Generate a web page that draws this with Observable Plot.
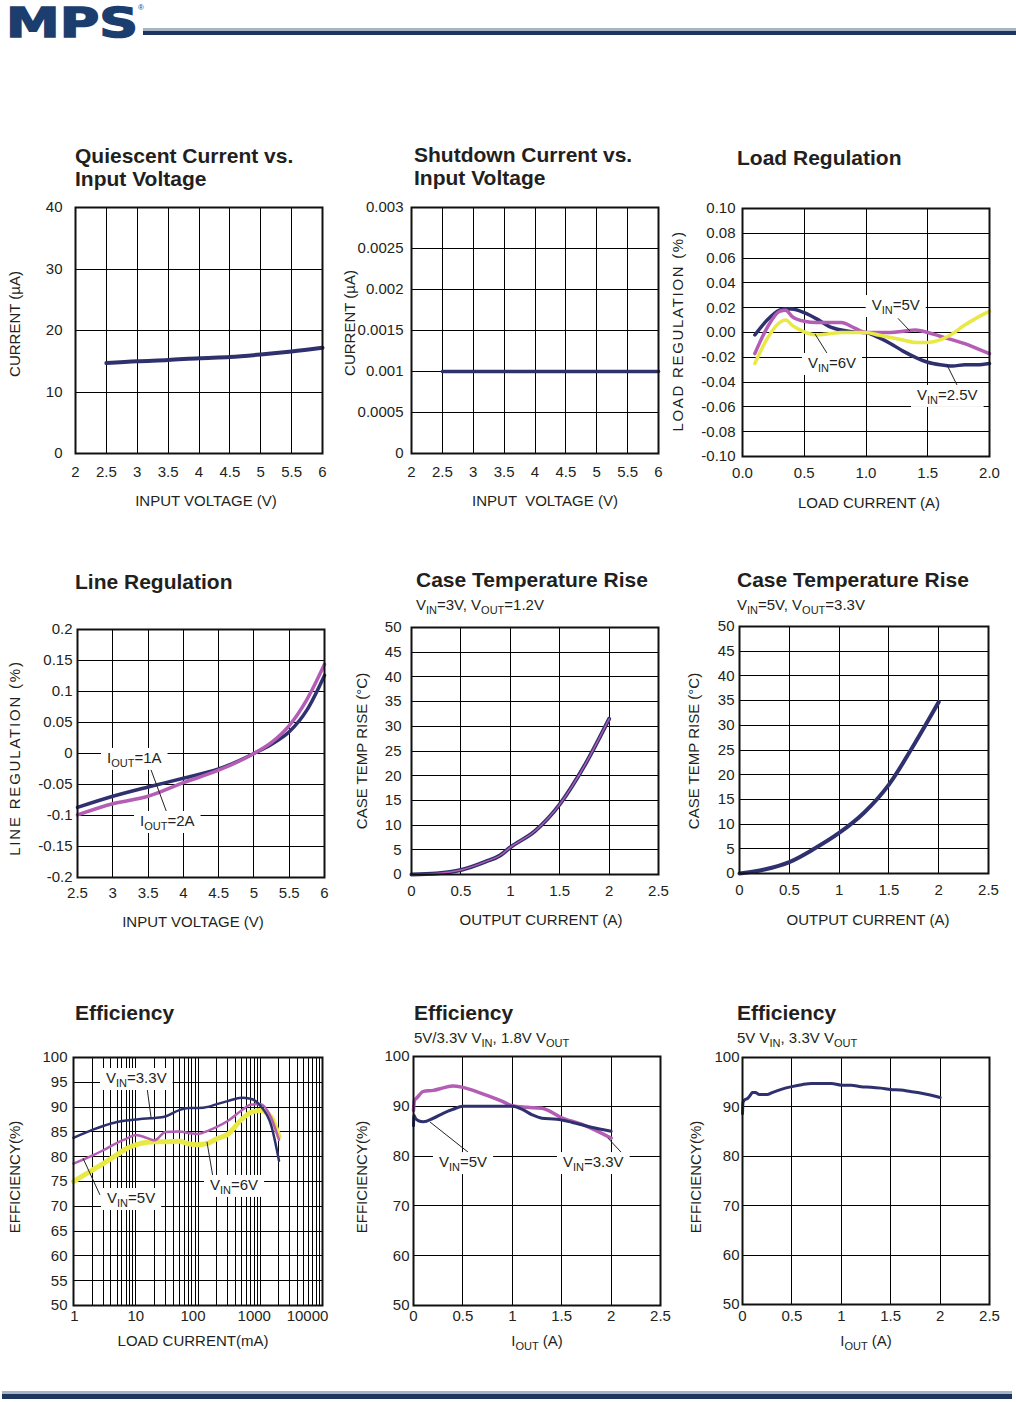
<!DOCTYPE html>
<html><head><meta charset="utf-8">
<script src="https://cdn.jsdelivr.net/npm/d3@7"></script>
<script src="https://cdn.jsdelivr.net/npm/@observablehq/plot@0.6"></script>
<style>
body{margin:0;background:#fff;}
#page{position:relative;width:1016px;height:1402px;overflow:hidden;background:#fff;}
</style></head><body><div id="page"></div>
<script>
// ---------------- data ----------------
const qcVin = [2.5, 3, 3.5, 4, 4.5, 5, 5.5, 6];
const qcCurrent = [14.7, 15.0, 15.2, 15.5, 15.7, 16.1, 16.6, 17.2];
const vinTicks = [2, 2.5, 3, 3.5, 4, 4.5, 5, 5.5, 6];
const qcYTicks = [0, 10, 20, 30, 40];

const sdVin = [2.5, 3, 3.5, 4, 4.5, 5, 5.5, 6];
const sdCurrent = [0.001, 0.001, 0.001, 0.001, 0.001, 0.001, 0.001, 0.001];
const sdYTicks = [0, 0.0005, 0.001, 0.0015, 0.002, 0.0025, 0.003];

const lrLoad = [0.1, 0.2, 0.3, 0.35, 0.4, 0.5, 0.6, 0.7, 0.8, 0.9, 1.0, 1.1, 1.2, 1.3, 1.4, 1.5, 1.6, 1.7, 1.8, 1.9, 2.0];
const lrVin25 = [-0.002, 0.010, 0.018, 0.019, 0.019, 0.016, 0.011, 0.005, 0.002, 0.0005, 0.0, -0.004, -0.009, -0.015, -0.020, -0.024, -0.026, -0.027, -0.026, -0.026, -0.025];
const lrVin5 = [-0.017, 0.004, 0.017, 0.018, 0.013, 0.009, 0.008, 0.008, 0.008, 0.004, 0.0, 0.0, 0.0, 0.001, 0.002, 0.0, -0.003, -0.006, -0.009, -0.013, -0.017];
const lrVin6 = [-0.025, -0.005, 0.008, 0.010, 0.006, 0.0005, -0.002, -0.001, 0.0, 0.0, 0.0, -0.002, -0.004, -0.006, -0.008, -0.008, -0.006, -0.001, 0.006, 0.012, 0.017];
const lrXTicks = [0, 0.5, 1.0, 1.5, 2.0];
const lrYTicks = [-0.10, -0.08, -0.06, -0.04, -0.02, 0.00, 0.02, 0.04, 0.06, 0.08, 0.10];

const lnVin = [2.5, 3, 3.5, 4, 4.5, 5, 5.25, 5.5, 5.75, 6];
const lnIout1A = [-0.087, -0.069, -0.054, -0.040, -0.025, 0.0, 0.015, 0.035, 0.070, 0.126];
const lnIout2A = [-0.099, -0.081, -0.069, -0.047, -0.027, 0.0, 0.018, 0.045, 0.087, 0.144];
const lnXTicks = [2.5, 3, 3.5, 4, 4.5, 5, 5.5, 6];
const lnYTicks = [-0.2, -0.15, -0.1, -0.05, 0, 0.05, 0.1, 0.15, 0.2];

const ct1Iout = [0, 0.25, 0.5, 0.75, 0.9, 1.0, 1.25, 1.5, 1.75, 2.0];
const ct1Rise = [0, 0.2, 0.9, 2.6, 3.9, 5.5, 8.8, 14.2, 22.0, 31.5];
const ct2Iout = [0, 0.25, 0.5, 0.75, 1.0, 1.25, 1.5, 1.75, 2.0];
const ct2Rise = [0, 0.8, 2.3, 5.0, 8.2, 12.3, 18.0, 26.0, 34.7];
const ioutTicks = [0, 0.5, 1, 1.5, 2, 2.5];
const ctYTicks = [0, 5, 10, 15, 20, 25, 30, 35, 40, 45, 50];

const efLoad = [1, 2, 3, 5, 7, 10, 15, 20, 30, 50, 70, 100, 150, 200, 300, 500, 700, 1000, 1500, 2000];
const efVin33 = [83.8, 85.4, 86.2, 87.0, 87.3, 87.5, 87.7, 87.8, 88.1, 89.4, 89.8, 89.8, 90.1, 90.6, 91.2, 91.9, 91.7, 90.3, 86.3, 79.2];
const efVin5 = [78.6, 80.2, 81.3, 82.8, 83.6, 84.4, 83.8, 83.3, 85.0, 85.1, 84.8, 84.6, 85.3, 86.0, 87.2, 89.3, 90.5, 90.6, 87.8, 83.4];
const efVin6 = [75.0, 77.3, 78.6, 80.4, 81.6, 82.4, 82.9, 83.0, 83.0, 83.1, 82.6, 82.4, 82.8, 83.6, 84.5, 87.5, 88.9, 89.3, 88.0, 84.0];
const efXTicks = [1, 10, 100, 1000, 10000];
const efDecades = [1, 10, 100, 1000];
const efYTicks = [50, 55, 60, 65, 70, 75, 80, 85, 90, 95, 100];

const e2IoutVin5 = [0, 0.005, 0.02, 0.05, 0.1, 0.2, 0.3, 0.4, 0.5, 0.7, 0.9, 1.0, 1.1, 1.2, 1.3, 1.45, 1.6, 1.8, 2.0];
const e2Vin5 = [86.1, 88.2, 87.6, 87.1, 86.9, 87.6, 88.6, 89.4, 90.0, 90.0, 90.0, 90.0, 89.4, 88.3, 87.6, 87.4, 86.8, 85.8, 85.0];
const e2IoutVin33 = [0, 0.01, 0.03, 0.1, 0.2, 0.3, 0.4, 0.5, 0.7, 0.9, 1.0, 1.15, 1.3, 1.5, 1.7, 2.0];
const e2Vin33 = [89.2, 91.2, 91.6, 93.0, 93.2, 93.7, 94.1, 93.8, 92.5, 91.0, 90.1, 89.8, 89.6, 87.7, 86.4, 83.6];
const effYTicks = [50, 60, 70, 80, 90, 100];

const e3Iout = [0, 0.005, 0.02, 0.05, 0.08, 0.1, 0.13, 0.17, 0.2, 0.25, 0.3, 0.4, 0.5, 0.6, 0.7, 0.8, 0.9, 1.0, 1.1, 1.2, 1.3, 1.4, 1.5, 1.6, 1.7, 1.8, 1.9, 2.0];
const e3Eff = [88.6, 90.9, 91.4, 91.7, 92.4, 92.9, 92.9, 92.5, 92.5, 92.5, 92.9, 93.6, 94.1, 94.5, 94.75, 94.75, 94.75, 94.4, 94.4, 94.1, 94.0, 93.8, 93.5, 93.4, 93.1, 92.8, 92.4, 91.9];

// ---------------- style ----------------
const NAVY = "#2f316e", MAG = "#b35db5", YEL = "#e9e946", INK = "#231f20";
const FONT = '"Liberation Sans", Arial, Helvetica, sans-serif';
const page = document.getElementById("page");

const ov = d3.select(page).append("svg")
  .attr("width", 1016).attr("height", 1402)
  .style("position", "absolute").style("left", "0px").style("top", "0px")
  .style("z-index", 5).style("font-family", FONT).style("overflow", "visible");

function addText(parent, x, y, parts, o = {}) {
  const size = o.size ?? 15;
  const t = parent.append("text").attr("x", x).attr("y", y)
    .attr("font-size", size).attr("font-weight", o.weight ?? 400)
    .attr("fill", o.fill ?? INK).attr("text-anchor", o.anchor ?? "start")
    .style("white-space", "pre");
  if (o.spacing) t.attr("letter-spacing", o.spacing);
  if (o.rotate) t.attr("transform", `rotate(-90 ${x} ${y})`);
  let shifted = false;
  for (const p of parts) {
    if (typeof p === "string") {
      const ts = t.append("tspan").text(p);
      if (shifted) { ts.attr("dy", -4); shifted = false; }
    } else {
      t.append("tspan").text(p.sub).attr("font-size", Math.round(size * 0.74)).attr("dy", 4);
      shifted = true;
    }
  }
  return t;
}

function makePanel(cfg) {
  const [x0, y0, x1, y1] = cfg.frame;
  const mL = 80, mT = 14, mR = 40, mB = 36;
  const fmtX = cfg.xFmt ?? (d => String(d));
  const xAxes = cfg.xShift
    ? cfg.xTicks.map((t, i) => Plot.axisX({ticks: [t], tickSize: 0, tickPadding: cfg.xPad, tickFormat: fmtX, label: null, dx: cfg.xShift[i]}))
    : [Plot.axisX({ticks: cfg.xTicks, tickSize: 0, tickPadding: cfg.xPad, tickFormat: fmtX, label: null})];
  const chart = Plot.plot({
    width: x1 - x0 + mL + mR, height: y1 - y0 + mT + mB,
    marginLeft: mL, marginRight: mR, marginTop: mT, marginBottom: mB,
    x: {type: cfg.xType ?? "linear", domain: cfg.xDomain},
    y: {type: "linear", domain: cfg.yDomain},
    style: {fontFamily: FONT, fontSize: "15px", color: INK, background: "transparent", overflow: "visible"},
    marks: [
      Plot.gridX({ticks: cfg.xGrid ?? cfg.xTicks, stroke: "#000", strokeOpacity: 1, strokeWidth: 1, shapeRendering: "crispEdges"}),
      Plot.gridY({ticks: cfg.yGrid ?? cfg.yTicks, stroke: "#000", strokeOpacity: 1, strokeWidth: 1, shapeRendering: "crispEdges"}),
      ...cfg.marks,
      Plot.frame({stroke: "#111", strokeWidth: 2}),
      ...xAxes,
      Plot.axisY({ticks: cfg.yTicks, tickSize: 0, tickPadding: cfg.yPad, tickFormat: cfg.yFmt ?? (d => String(d)), label: null})
    ]
  });
  chart.style.position = "absolute";
  chart.style.left = (x0 - mL) + "px";
  chart.style.top = (y0 - mT) + "px";
  page.appendChild(chart);
  const sxs = chart.scale("x"), sys = chart.scale("y");
  const sx = v => sxs.apply(v) + x0 - mL;
  const sy = v => sys.apply(v) + y0 - mT;
  (cfg.title || []).forEach((line, i) => addText(ov, cfg.titleX, cfg.titleY + i * 23, [line], {size: 21, weight: 700}));
  if (cfg.subtitle) addText(ov, cfg.titleX, cfg.subY, cfg.subtitle, {size: 15});
  addText(ov, cfg.xLabelPos[0], cfg.xLabelPos[1], cfg.xLabel, {anchor: "middle"});
  addText(ov, cfg.yLabelPos[0], cfg.yLabelPos[1], cfg.yLabel, {anchor: "middle", rotate: true, spacing: cfg.ySpacing});
  (cfg.notes || []).forEach(n => {
    if (n.from) ov.append("line").attr("x1", sx(n.from[0])).attr("y1", sy(n.from[1]))
      .attr("x2", sx(n.to[0])).attr("y2", sy(n.to[1])).attr("stroke", "#222").attr("stroke-width", 1);
  });
  (cfg.notes || []).forEach(n => {
    const g = ov.append("g");
    const t = addText(g, sx(n.x), sy(n.y), n.parts, {size: 15});
    const b = t.node().getBBox();
    g.insert("rect", "text").attr("x", b.x - 6).attr("y", b.y - 1).attr("width", b.width + 12).attr("height", b.height + 2).attr("fill", "#fff");
  });
}

const line = (xs, ys, stroke, w, curve = "monotone-x") => Plot.line(xs, {x: xs, y: ys, stroke, strokeWidth: w, curve, strokeLinejoin: "round", strokeLinecap: "round"});

// 1. Quiescent current
makePanel({
  frame: [75, 207, 322, 453], xDomain: [2, 6], yDomain: [0, 40],
  xTicks: vinTicks, yTicks: qcYTicks, xPad: 13, yPad: 13,
  marks: [line(qcVin, qcCurrent, NAVY, 4)],
  title: ["Quiescent Current vs.", "Input Voltage"], titleX: 75, titleY: 163,
  xLabel: ["INPUT VOLTAGE (V)"], xLabelPos: [206, 506],
  yLabel: ["CURRENT (µA)"], yLabelPos: [20, 324]
});

// 2. Shutdown current
makePanel({
  frame: [411, 207, 658, 453], xDomain: [2, 6], yDomain: [0, 0.003],
  xTicks: vinTicks, yTicks: sdYTicks, xPad: 13, yPad: 8,
  marks: [line(sdVin, sdCurrent, NAVY, 3.5, "linear")],
  title: ["Shutdown Current vs.", "Input Voltage"], titleX: 414, titleY: 162,
  xLabel: ["INPUT  VOLTAGE (V)"], xLabelPos: [545, 506],
  yLabel: ["CURRENT (µA)"], yLabelPos: [355, 323]
});

// 3. Load regulation
makePanel({
  frame: [742, 208, 989, 456], xDomain: [0, 2], yDomain: [-0.1, 0.1],
  xTicks: lrXTicks, yTicks: lrYTicks, xPad: 11, yPad: 7,
  xFmt: d => d.toFixed(1), yFmt: d => d.toFixed(2),
  marks: [line(lrLoad, lrVin25, NAVY, 3.5), line(lrLoad, lrVin5, MAG, 3.5), line(lrLoad, lrVin6, YEL, 3.5)],
  title: ["Load Regulation"], titleX: 737, titleY: 165,
  xLabel: ["LOAD CURRENT (A)"], xLabelPos: [869, 508],
  yLabel: ["LOAD REGULATION (%)"], yLabelPos: [683, 331], ySpacing: 1.7,
  notes: [
    {parts: ["V", {sub: "IN"}, "=5V"], x: 1.05, y: 0.0177, from: [1.263, 0.011], to: [1.36, 0.0008]},
    {parts: ["V", {sub: "IN"}, "=6V"], x: 0.534, y: -0.029, from: [0.591, -0.0016], to: [0.713, -0.021]},
    {parts: ["V", {sub: "IN"}, "=2.5V"], x: 1.417, y: -0.0548, from: [1.66, -0.0266], to: [1.749, -0.0444]}
  ]
});

// 4. Line regulation
makePanel({
  frame: [77, 629, 324, 877], xDomain: [2.5, 6], yDomain: [-0.2, 0.2],
  xTicks: lnXTicks, yTicks: lnYTicks, xPad: 10, yPad: 5,
  marks: [line(lnVin, lnIout1A, NAVY, 3.5), line(lnVin, lnIout2A, MAG, 3.5)],
  title: ["Line Regulation"], titleX: 75, titleY: 589,
  xLabel: ["INPUT VOLTAGE (V)"], xLabelPos: [193, 927],
  yLabel: ["LINE REGULATION (%)"], yLabelPos: [20, 758], ySpacing: 1.8,
  notes: [
    {parts: ["I", {sub: "OUT"}, "=1A"], x: 2.925, y: -0.016, from: [3.534, -0.0226], to: [3.775, -0.0968]},
    {parts: ["I", {sub: "OUT"}, "=2A"], x: 3.393, y: -0.1177}
  ]
});

// 5. Case temperature rise (3V -> 1.2V)
makePanel({
  frame: [411, 627, 658, 874], xDomain: [0, 2.5], yDomain: [0, 50],
  xTicks: ioutTicks, yTicks: ctYTicks, xPad: 11, yPad: 10,
  marks: [line(ct1Iout, ct1Rise, NAVY, 4), line(ct1Iout, ct1Rise, MAG, 1.4)],
  title: ["Case Temperature Rise"], titleX: 416, titleY: 587,
  subtitle: ["V", {sub: "IN"}, "=3V, V", {sub: "OUT"}, "=1.2V"], subY: 610,
  xLabel: ["OUTPUT CURRENT (A)"], xLabelPos: [541, 925],
  yLabel: ["CASE TEMP RISE (°C)"], yLabelPos: [367, 751]
});

// 6. Case temperature rise (5V -> 3.3V)
makePanel({
  frame: [739, 626, 988, 873], xDomain: [0, 2.5], yDomain: [0, 50],
  xTicks: ioutTicks, yTicks: ctYTicks, xPad: 11, yPad: 5,
  marks: [line(ct2Iout, ct2Rise, NAVY, 4)],
  title: ["Case Temperature Rise"], titleX: 737, titleY: 587,
  subtitle: ["V", {sub: "IN"}, "=5V, V", {sub: "OUT"}, "=3.3V"], subY: 610,
  xLabel: ["OUTPUT CURRENT (A)"], xLabelPos: [868, 925],
  yLabel: ["CASE TEMP RISE (°C)"], yLabelPos: [699, 751]
});

// 7. Efficiency vs load current (log)
const efGrid = [];
efDecades.forEach(d => { for (let k = 1; k <= 9; k++) efGrid.push(d * k); });
efGrid.push(10000);
makePanel({
  frame: [73, 1057, 322, 1305], xType: "log", xDomain: [1, 10000], yDomain: [50, 100],
  xTicks: efXTicks, xShift: [1, 0, -5, -6, -15], xGrid: efGrid, yTicks: efYTicks, xPad: 5, yPad: 6,
  marks: [line(efLoad, efVin6, YEL, 5), line(efLoad, efVin5, MAG, 2.5), line(efLoad, efVin33, NAVY, 2.5)],
  title: ["Efficiency"], titleX: 75, titleY: 1020,
  xLabel: ["LOAD CURRENT(mA)"], xLabelPos: [193, 1346],
  yLabel: ["EFFICIENCY(%)"], yLabelPos: [20, 1177],
  notes: [
    {parts: ["V", {sub: "IN"}, "=3.3V"], x: 3.39, y: 94.76, from: [15.4, 93.95], to: [17.9, 87.9]},
    {parts: ["V", {sub: "IN"}, "=5V"], x: 3.52, y: 70.56, from: [2.71, 72.2], to: [1.447, 79.6]},
    {parts: ["V", {sub: "IN"}, "=6V"], x: 158.7, y: 73.2, from: [177, 75.8], to: [142, 82.9]}
  ]
});

// 8. Efficiency 1.8V out
makePanel({
  frame: [413, 1056, 660, 1305], xDomain: [0, 2.5], yDomain: [50, 100],
  xTicks: ioutTicks, yTicks: effYTicks, xPad: 5, yPad: 4,
  marks: [line(e2IoutVin33, e2Vin33, MAG, 3.5), line(e2IoutVin5, e2Vin5, NAVY, 3)],
  title: ["Efficiency"], titleX: 414, titleY: 1020,
  subtitle: ["5V/3.3V V", {sub: "IN"}, ", 1.8V V", {sub: "OUT"}], subY: 1043,
  xLabel: ["I", {sub: "OUT"}, " (A)"], xLabelPos: [537, 1346],
  yLabel: ["EFFICIENCY(%)"], yLabelPos: [367, 1177],
  notes: [
    {parts: ["V", {sub: "IN"}, "=5V"], x: 0.263, y: 77.7, from: [0.557, 80.7], to: [0.172, 86.75]},
    {parts: ["V", {sub: "IN"}, "=3.3V"], x: 1.518, y: 77.7, from: [2.115, 80.5], to: [1.974, 83.5]}
  ]
});

// 9. Efficiency 3.3V out
makePanel({
  frame: [742, 1057, 989, 1304], xDomain: [0, 2.5], yDomain: [50, 100],
  xTicks: ioutTicks, yTicks: effYTicks, xPad: 6, yPad: 3,
  marks: [line(e3Iout, e3Eff, NAVY, 3)],
  title: ["Efficiency"], titleX: 737, titleY: 1020,
  subtitle: ["5V V", {sub: "IN"}, ", 3.3V V", {sub: "OUT"}], subY: 1043,
  xLabel: ["I", {sub: "OUT"}, " (A)"], xLabelPos: [866, 1346],
  yLabel: ["EFFICIENCY(%)"], yLabelPos: [701, 1177]
});

// ---------------- header / footer ----------------
ov.append("text").attr("x", 6).attr("y", 37).text("MPS")
  .attr("font-family", '"DejaVu Sans", sans-serif').attr("font-weight", 700).attr("font-size", 40)
  .attr("textLength", 132).attr("lengthAdjust", "spacingAndGlyphs")
  .attr("fill", "#1c3e6e").attr("stroke", "#1c3e6e").attr("stroke-width", 1.5);
ov.append("text").attr("x", 138).attr("y", 10).text("®").attr("font-size", 8).attr("fill", "#1c3e6e");
ov.append("rect").attr("x", 143).attr("y", 28).attr("width", 873).attr("height", 3).attr("fill", "#a7b4c4");
ov.append("rect").attr("x", 143).attr("y", 31).attr("width", 873).attr("height", 4).attr("fill", "#1d3660");
ov.append("rect").attr("x", 2).attr("y", 1391).attr("width", 1010).attr("height", 3).attr("fill", "#a7b4c4");
ov.append("rect").attr("x", 2).attr("y", 1394).attr("width", 1010).attr("height", 5).attr("fill", "#1d3660");
</script></body></html>
